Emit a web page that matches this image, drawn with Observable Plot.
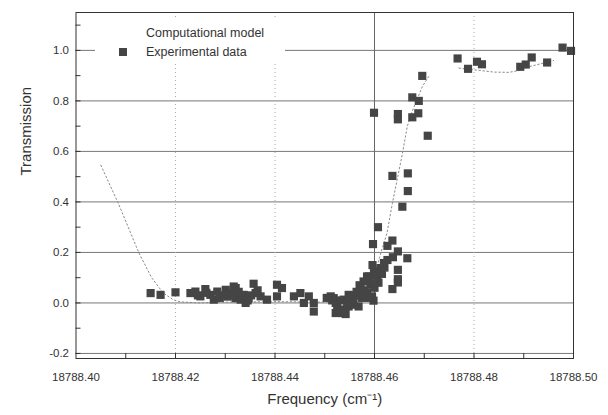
<!DOCTYPE html>
<html>
<head>
<meta charset="utf-8">
<script src="https://cdn.jsdelivr.net/npm/d3@7"></script>
<script src="https://cdn.jsdelivr.net/npm/@observablehq/plot@0.6"></script>
<style>
  body { margin: 0; background: #fff; }
  #wrap { position: relative; width: 608px; height: 415px; font-family: "Liberation Sans", Arial, sans-serif; color: #333; }
  #legend { position: absolute; left: 95px; top: 20px; width: 190px; height: 42px; background: #fff; }
  .lg { position: absolute; font-size: 12.5px; line-height: 14px; white-space: nowrap; }
  .sq { position: absolute; width: 8px; height: 8px; background: #454545; }
</style>
</head>
<body>
<div id="wrap"></div>
<script>
// Experimental data (frequency in cm^-1, transmission)
const freq = [
  18788.4150, 18788.4170, 18788.4200, 18788.4230, 18788.4240, 18788.4250, 18788.4260, 18788.4270,
  18788.4284, 18788.4277, 18788.4301, 18788.4311, 18788.4317, 18788.4321, 18788.4321, 18788.4327,
  18788.4331, 18788.4337, 18788.4341, 18788.4347, 18788.4357, 18788.4361, 18788.4371, 18788.4384,
  18788.4404, 18788.4404, 18788.4414, 18788.4438, 18788.4451, 18788.4458, 18788.4468, 18788.4478,
  18788.4478, 18788.4504, 18788.4512, 18788.4518, 18788.4522, 18788.4522, 18788.4525, 18788.4532,
  18788.4538, 18788.4542, 18788.4548, 18788.4548, 18788.4555, 18788.4558, 18788.4564, 18788.4568,
  18788.4572, 18788.4578, 18788.4578, 18788.4585, 18788.4585, 18788.4589, 18788.4592, 18788.4595,
  18788.4598, 18788.4599, 18788.4606, 18788.4612, 18788.4614, 18788.4619, 18788.4626, 18788.4597,
  18788.4607, 18788.4636, 18788.4626, 18788.4647, 18788.4637, 18788.4666, 18788.4647, 18788.4647,
  18788.4647, 18788.4636, 18788.4656, 18788.4636, 18788.4667, 18788.4667, 18788.4599, 18788.4647,
  18788.4647, 18788.4676, 18788.4688, 18788.4676, 18788.4689, 18788.4696, 18788.4707, 18788.4767,
  18788.4788, 18788.4806, 18788.4816, 18788.4893, 18788.4904, 18788.4916, 18788.4947, 18788.4978,
  18788.4995,
  18788.4295, 18788.4305, 18788.4315, 18788.4345, 18788.4352, 18788.4365, 18788.4262, 18788.4245,
  18788.4289, 18788.4570, 18788.4580, 18788.4590, 18788.4600, 18788.4603, 18788.4608, 18788.4615,
  18788.4620, 18788.4596, 18788.4590, 18788.4575, 18788.4562, 18788.4530, 18788.4540, 18788.4535,
  18788.4515, 18788.4545
];
const trans = [
  0.039, 0.032, 0.042, 0.039, 0.045, 0.026, 0.055, 0.032,
  0.045, 0.013, 0.052, 0.039, 0.065, 0.059, 0.019, 0.044,
  0.013, 0.032, 0.000, 0.019, 0.076, 0.039, 0.026, 0.013,
  0.072, 0.026, 0.059, 0.026, 0.039, 0.000, 0.026, -0.034,
  0.000, 0.020, 0.026, 0.019, 0.000, -0.040, -0.020, -0.026,
  0.013, -0.044, 0.032, -0.014, -0.007, 0.006, 0.044, -0.014,
  0.059, 0.039, 0.085, 0.039, 0.105, 0.105, 0.072, 0.026,
  0.009, 0.125, 0.100, 0.138, 0.130, 0.158, 0.170, 0.233,
  0.300, 0.247, 0.226, 0.204, 0.181, 0.177, 0.131, 0.094,
  0.081, 0.055, 0.381, 0.503, 0.513, 0.443, 0.753, 0.748,
  0.727, 0.735, 0.751, 0.814, 0.800, 0.899, 0.662, 0.968,
  0.927, 0.955, 0.945, 0.935, 0.944, 0.972, 0.952, 1.011,
  0.998,
  0.030, 0.025, 0.030, 0.010, 0.030, 0.050, 0.040, 0.030,
  0.020, 0.070, 0.050, 0.090, 0.060, 0.110, 0.080, 0.115,
  0.140, 0.150, 0.020, 0.020, 0.030, 0.010, -0.030, -0.040,
  0.010, 0.000
];
// Computational model (two traced pieces)
const modelFreq = [
  18788.4050, 18788.4086, 18788.4126, 18788.4152, 18788.4175, 18788.4195, 18788.4210, 18788.4250,
  18788.4300, 18788.4400, 18788.4500, 18788.4560, 18788.4580, 18788.4595, 18788.4610, 18788.4625,
  18788.4636, 18788.4656, 18788.4666, 18788.4676, 18788.4696, 18788.4710,
  18788.4770, 18788.4790, 18788.4810, 18788.4840, 18788.4870, 18788.4890, 18788.4910, 18788.4940, 18788.4960
];
const modelTrans = [
  0.545, 0.390, 0.200, 0.100, 0.040, 0.013, 0.004, 0.000,
  0.003, 0.005, 0.003, 0.010, 0.030, 0.070, 0.180, 0.276,
  0.395, 0.590, 0.700, 0.760, 0.856, 0.900,
  0.930, 0.925, 0.921, 0.914, 0.913, 0.920, 0.935, 0.950, 0.960
];
const modelPiece = [
  1,1,1,1,1,1,1,1,1,1,1,1,1,1,1,1,1,1,1,1,1,1,
  2,2,2,2,2,2,2,2,2
];
// Axis ticks
const xTicks = [18788.40, 18788.42, 18788.44, 18788.46, 18788.48, 18788.50];
const xMinorTicks = [18788.41, 18788.42, 18788.43, 18788.44, 18788.45, 18788.46, 18788.47, 18788.48, 18788.49];
const yTicks = [-0.2, 0.0, 0.2, 0.4, 0.6, 0.8, 1.0];
const yMinorTicks = [-0.1, 0.1, 0.3, 0.5, 0.7, 0.9, 1.1];
const xDottedGrid = [18788.42, 18788.44, 18788.48];
const xSolidGrid = [18788.46];

const W = 608, H = 415, mL = 75.5, mR = 35, mT = 12, mB = 57;
const innerW = W - mL - mR, innerH = H - mT - mB;

const idx = d3.range(freq.length);
const midx = d3.range(modelFreq.length);

const chart = Plot.plot({
  width: W, height: H,
  marginLeft: mL, marginRight: mR, marginTop: mT, marginBottom: mB,
  style: { fontFamily: "'Liberation Sans', Arial, sans-serif", color: "#333", background: "#fff" },
  x: { domain: [18788.40, 18788.50] },
  y: { domain: [-0.22, 1.15] },
  marks: [
    Plot.ruleY(yTicks, { stroke: "#777", strokeWidth: 1 }),
    Plot.ruleX(xDottedGrid, { stroke: "#aaa", strokeDasharray: "1,3" }),
    Plot.ruleX(xSolidGrid, { stroke: "#666" }),
    Plot.tickY(yTicks.concat(yMinorTicks), { y: d => d, stroke: "#333", insetRight: innerW - 5 }),
    Plot.tickX(xMinorTicks, { x: d => d, stroke: "#333", insetTop: innerH - 5 }),
    Plot.line(midx, { x: i => modelFreq[i], y: i => modelTrans[i], z: i => modelPiece[i],
      stroke: "#8a8a8a", strokeWidth: 1, strokeDasharray: "1.5,2.5" }),
    Plot.dot(idx, { x: i => freq[i], y: i => trans[i], symbol: "square", r: 4.6, fill: "#454545", stroke: "none" }),
    Plot.frame({ stroke: "#333" }),
    Plot.axisX({ ticks: xTicks, tickSize: 0, tickPadding: 14, tickFormat: d => d.toFixed(2), label: null, fontSize: 11.5 }),
    Plot.axisY({ ticks: yTicks, tickSize: 0, tickPadding: 7, tickFormat: d => d.toFixed(1), label: null, fontSize: 11.5 }),
    Plot.text(["Transmission"], { frameAnchor: "left", dx: -50, dy: -10, rotate: -90, fontSize: 15, fill: "#333" }),
    Plot.text(["Frequency (cm⁻¹)"], { frameAnchor: "bottom", dy: 45, fontSize: 15, fill: "#333" })
  ]
});

const wrap = document.getElementById("wrap");
wrap.appendChild(chart);
const legend = document.createElement("div");
legend.id = "legend";
legend.innerHTML =
  '<div class="lg" style="left:51px;top:6px">Computational model</div>' +
  '<div class="sq" style="left:24px;top:28px"></div>' +
  '<div class="lg" style="left:51px;top:25px">Experimental data</div>';
wrap.appendChild(legend);
</script>
</body>
</html>
